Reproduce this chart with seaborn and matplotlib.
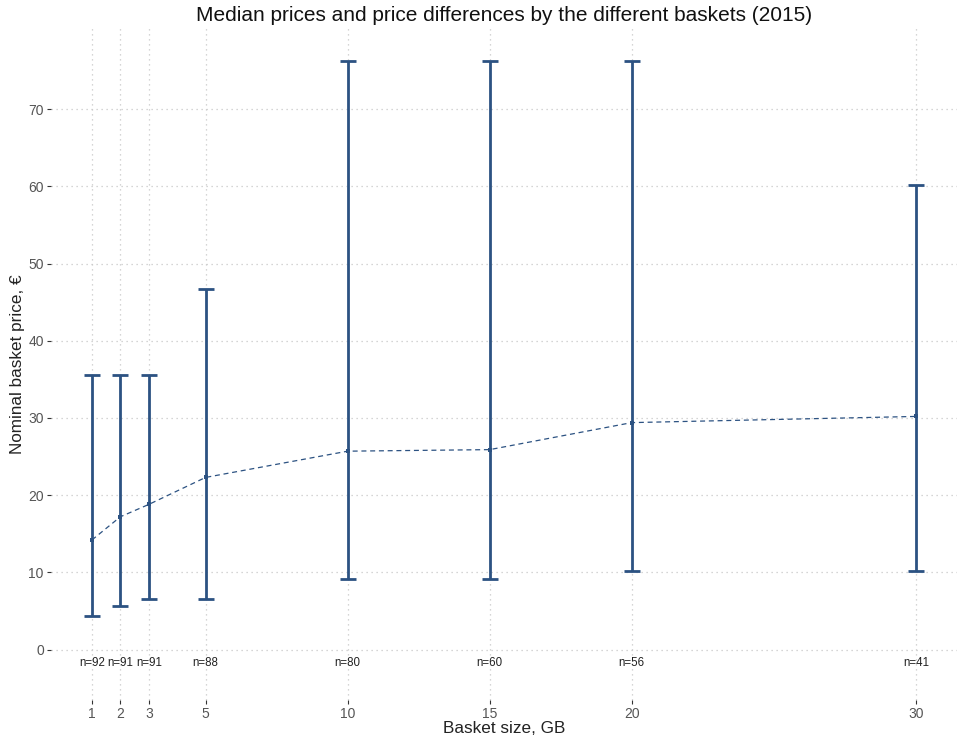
import matplotlib
matplotlib.use("Agg")
import matplotlib.pyplot as plt
import pandas as pd
import seaborn as sns

# Values.
BASKET_GB = [1, 2, 3, 5, 10, 15, 20, 30]
MEDIAN_PRICE = [14.2, 17.2, 18.8, 22.3, 25.7, 25.9, 29.4, 30.2]
MIN_PRICE = [4.3, 5.6, 6.5, 6.5, 9.2, 9.2, 10.2, 10.2]
MAX_PRICE = [35.6, 35.6, 35.6, 46.7, 76.3, 76.3, 76.3, 60.2]
N_OBS = [92, 91, 91, 88, 80, 60, 56, 41]
Y_TICKS = [0, 10, 20, 30, 40, 50, 60, 70]

COLOR = "#2c5282"


def main() -> None:
    df = pd.DataFrame(
        {
            "size": BASKET_GB,
            "median": MEDIAN_PRICE,
            "lo": MIN_PRICE,
            "hi": MAX_PRICE,
            "n": N_OBS,
        }
    )

    sns.set_theme(style="whitegrid")
    plt.rcParams["font.family"] = ["Liberation Sans", "DejaVu Sans"]

    fig = plt.figure(figsize=(9.58, 7.42), dpi=100)
    ax = fig.add_axes([0.053, 0.057, 0.946, 0.905])

    # Range bars from cheapest to most expensive offer in each basket.
    ax.errorbar(
        df["size"],
        df["median"],
        yerr=[df["median"] - df["lo"], df["hi"] - df["median"]],
        fmt="none",
        ecolor=COLOR,
        elinewidth=2.0,
        capsize=5.5,
        capthick=2.0,
        zorder=3,
    )
    # Median line.
    sns.lineplot(
        data=df,
        x="size",
        y="median",
        ax=ax,
        color=COLOR,
        linewidth=0.9,
        linestyle=(0, (4, 3)),
        marker="s",
        markersize=2.5,
        markeredgewidth=0,
        zorder=4,
    )

    for _, row in df.iterrows():
        ax.text(row["size"], -1.8, f"n={int(row['n'])}", ha="center",
                va="center", fontsize=8.3, color="#222222")

    ax.set_xlim(-0.45, 31.45)
    ax.set_ylim(-6.5, 80.5)
    ax.set_xticks(BASKET_GB)
    ax.set_yticks(Y_TICKS)

    ax.grid(True, color="#c8c8c8", linestyle=(0, (1, 3)), linewidth=0.9)
    for side in ax.spines.values():
        side.set_visible(False)
    ax.tick_params(axis="both", which="major", length=3, width=0.8,
                   color="#333333", labelsize=10, labelcolor="#555555",
                   bottom=True, left=True, pad=2)

    ax.set_title("Median prices and price differences by the different baskets (2015)",
                 fontsize=15, color="#111111", pad=5)
    ax.set_xlabel("Basket size, GB", fontsize=12.3, color="#222222", labelpad=0)
    ax.set_ylabel("Nominal basket price, €", fontsize=12.3, color="#222222", labelpad=2)

    fig.savefig("out.png", dpi=100, facecolor="white")
    plt.close(fig)


if __name__ == "__main__":
    main()
